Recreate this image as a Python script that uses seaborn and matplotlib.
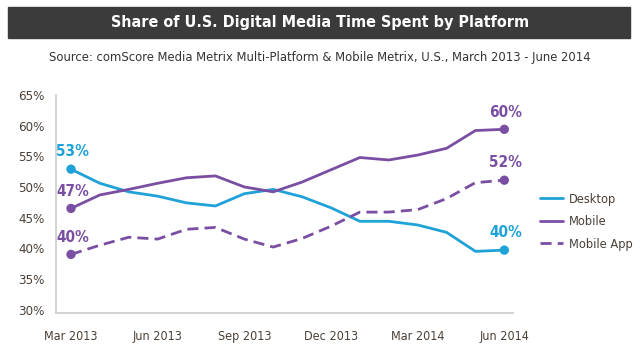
import numpy as np
import pandas as pd
import matplotlib
matplotlib.use("Agg")
import matplotlib.pyplot as plt
from matplotlib import font_manager
from matplotlib.patches import Rectangle
import seaborn as sns

# data (share of digital media time, %)
months = ["Mar 2013", "Apr 2013", "May 2013", "Jun 2013", "Jul 2013", "Aug 2013",
          "Sep 2013", "Oct 2013", "Nov 2013", "Dec 2013", "Jan 2014", "Feb 2014",
          "Mar 2014", "Apr 2014", "May 2014", "Jun 2014"]
desktop = [52.9, 50.6, 49.2, 48.5, 47.4, 46.9, 48.9, 49.6, 48.4, 46.6, 44.4, 44.4, 43.8, 42.6, 39.5, 39.7]
mobile = [46.5, 48.7, 49.6, 50.6, 51.5, 51.8, 50.0, 49.2, 50.8, 52.8, 54.8, 54.4, 55.2, 56.3, 59.2, 59.4]
mobile_app = [39.0, 40.5, 41.8, 41.5, 43.1, 43.4, 41.5, 40.2, 41.6, 43.6, 45.9, 45.9, 46.3, 48.1, 50.7, 51.1]
platforms = ["Desktop", "Mobile", "Mobile App"]
end_labels = {"Desktop": ["53%", "40%"], "Mobile": ["47%", "60%"], "Mobile App": ["40%", "52%"]}
tick_months = ["Mar 2013", "Jun 2013", "Sep 2013", "Dec 2013", "Mar 2014", "Jun 2014"]

colors = {"Desktop": "#1ea2d8", "Mobile": "#7a4fa3", "Mobile App": "#7a4fa3"}
text_col = "#4a4038"

sns.set_style("white")
# pick a narrow face if one is there
names = {f.name for f in font_manager.fontManager.ttflist}
narrow = "Liberation Sans Narrow" if "Liberation Sans Narrow" in names else "DejaVu Sans"
plt.rcParams["font.family"] = [narrow, "DejaVu Sans"]
if narrow == "DejaVu Sans":
    plt.rcParams["font.stretch"] = "condensed"

x = np.arange(len(months))
df = pd.DataFrame({
    "x": np.tile(x, 3),
    "share": desktop + mobile + mobile_app,
    "platform": np.repeat(platforms, len(months)),
})

fig = plt.figure(figsize=(6.4, 3.55), dpi=100)
ax = fig.add_axes([0.087, 0.1175, 0.715, 0.615])

sns.lineplot(data=df, x="x", y="share", hue="platform", style="platform",
             palette=colors, dashes={"Desktop": "", "Mobile": "", "Mobile App": (4, 2.2)},
             linewidth=2, ax=ax)

ends = df[(df["x"] == x[0]) | (df["x"] == x[-1])]
sns.scatterplot(data=ends, x="x", y="share", hue="platform", palette=colors,
                s=45, edgecolor="none", legend=False, ax=ax, zorder=5)

for p in platforms:
    sub = ends[ends["platform"] == p]
    for (_, row), lab in zip(sub.iterrows(), end_labels[p]):
        ax.annotate(lab, (row["x"], row["share"]), xytext=(1, 7), textcoords="offset points",
                    ha="center", va="bottom", color=colors[p], fontsize=11, fontweight="bold")

ax.set_xlim(-0.53, 15.31)
ax.set_ylim(29.4, 65)
ax.set_yticks(range(30, 66, 5))
ax.set_yticklabels([f"{v}%" for v in range(30, 66, 5)])
ax.set_xticks([months.index(m) for m in tick_months])
ax.set_xticklabels(tick_months)
ax.tick_params(axis="both", length=0, labelsize=9.5, labelcolor=text_col, pad=8)
ax.tick_params(axis="x", labelsize=9, pad=12)
ax.set_xlabel("")
ax.set_ylabel("")
for s in ["top", "right"]:
    ax.spines[s].set_visible(False)
for s in ["left", "bottom"]:
    ax.spines[s].set_color("#cccccc")
    ax.spines[s].set_linewidth(1.2)

handles, labels = ax.get_legend_handles_labels()
leg = ax.legend(handles, labels, loc="center left", bbox_to_anchor=(0.825, 0.375),
                bbox_transform=fig.transFigure, frameon=False, fontsize=9.2,
                handlelength=1.8, handletextpad=0.5, labelspacing=0.75)
for t in leg.get_texts():
    t.set_color(text_col)

# title bar
fig.patches.append(Rectangle((8 / 640, 1 - 38 / 355), 622 / 640, 31 / 355,
                             transform=fig.transFigure, color="#3b3b3b", zorder=0))
fig.text(0.5, 1 - 22.5 / 355, "Share of U.S. Digital Media Time Spent by Platform",
         ha="center", va="center", color="white", fontsize=11.5, fontweight="bold")
fig.text(0.5, 1 - 58 / 355,
         "Source: comScore Media Metrix Multi-Platform & Mobile Metrix, U.S., March 2013 - June 2014",
         ha="center", va="center", color="#333333", fontsize=9.3)

fig.savefig("out.png", dpi=100)
